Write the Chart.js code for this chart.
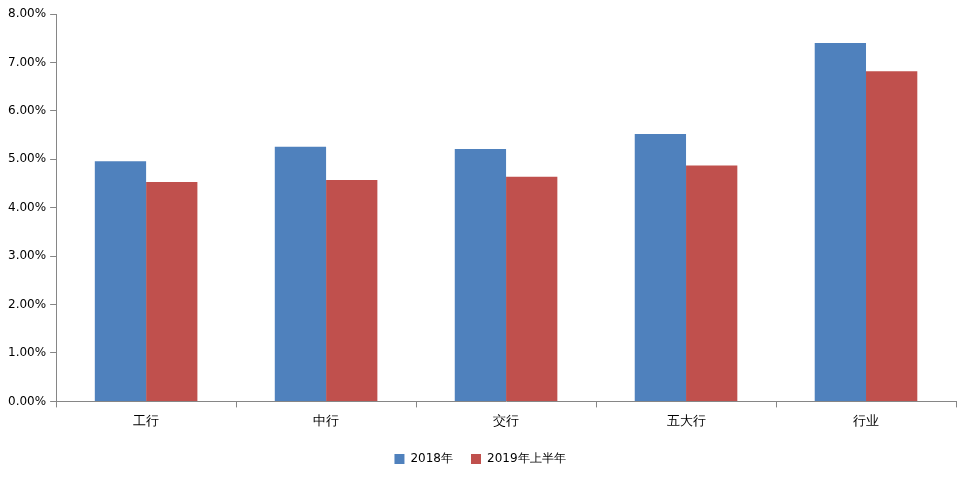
<!DOCTYPE html>
<html>
<head>
<meta charset="utf-8">
<script src="https://cdn.jsdelivr.net/npm/chart.js@4"></script>
<style>
  body { margin: 0; background: #fff; }
  #wrap { width: 976px; height: 483px; }
</style>
</head>
<body>
<div id="wrap"><canvas id="c"></canvas></div>
<script>
const categories = ["工行", "中行", "交行", "五大行", "行业"];
const series2018 = [4.96, 5.26, 5.21, 5.52, 7.40];
const series2019H1 = [4.53, 4.57, 4.64, 4.87, 6.82];

const axisColor = "#868686";

new Chart(document.getElementById("c"), {
  type: "bar",
  data: {
    labels: categories,
    datasets: [
      { label: "2018年", data: series2018, backgroundColor: "#4F81BD" },
      { label: "2019年上半年", data: series2019H1, backgroundColor: "#C0504D" },
    ],
  },
  options: {
    responsive: true,
    maintainAspectRatio: false,
    animation: false,
    layout: { padding: { top: 14, right: 20, left: 4, bottom: 8 } },
    datasets: { bar: { categoryPercentage: 0.57, barPercentage: 1 } },
    plugins: {
      tooltip: { enabled: false },
      legend: {
        position: "bottom",
        labels: {
          boxWidth: 10,
          boxHeight: 10,
          padding: 18,
          color: "#000",
          font: { family: "DejaVu Sans", size: 12 },
        },
      },
    },
    scales: {
      x: {
        grid: { offset: true, drawOnChartArea: false, drawTicks: true, tickLength: 6, color: axisColor },
        border: { color: axisColor },
        ticks: { color: "#000", font: { family: "DejaVu Sans", size: 13 }, padding: 6 },
      },
      y: {
        min: 0,
        max: 8,
        grid: { drawOnChartArea: false, drawTicks: true, tickLength: 6, color: axisColor },
        border: { color: axisColor },
        ticks: {
          stepSize: 1,
          color: "#000",
          font: { family: "DejaVu Sans", size: 12 },
          padding: 4,
          callback: (v) => v.toFixed(2) + "%",
        },
      },
    },
  },
});
</script>
</body>
</html>
